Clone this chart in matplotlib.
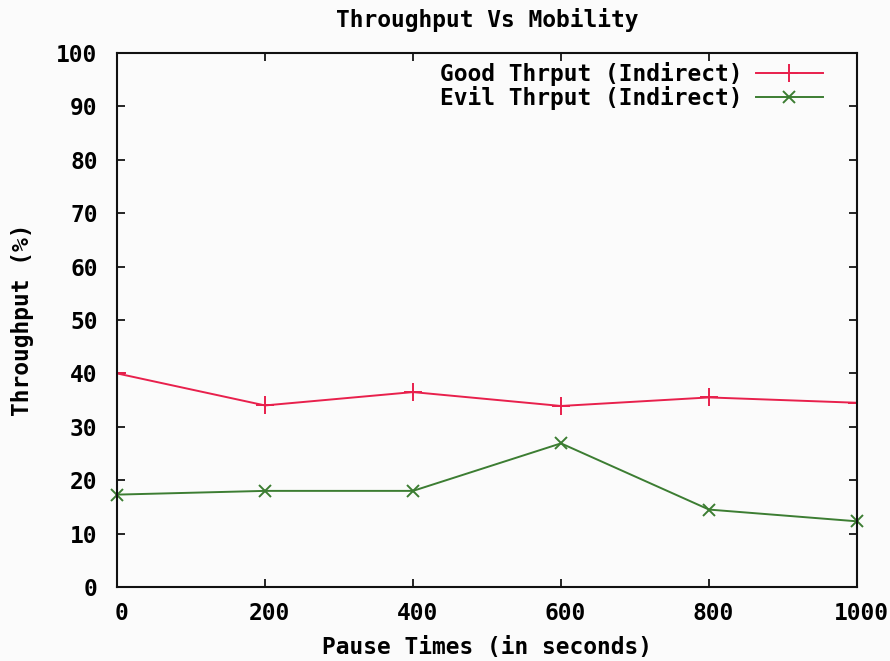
import numpy as np
import matplotlib
matplotlib.use("Agg")
import matplotlib.pyplot as plt
import matplotlib.transforms as mtransforms

# Data
pause_times = [0, 200, 400, 600, 800, 1000]
good_thrput = [40.0, 34.0, 36.5, 33.9, 35.5, 34.5]
evil_thrput = [17.3, 18.0, 18.0, 26.9, 14.5, 12.3]

x_ticks = [0, 200, 400, 600, 800, 1000]
y_ticks = list(range(0, 101, 10))

plt.rcParams['font.family'] = ['DejaVu Sans Mono', 'DejaVu Sans']
plt.rcParams['font.weight'] = 'bold'
fs = 16.5

fig = plt.figure(figsize=(8.9, 6.61), dpi=100, facecolor='#fbfbfb')
ax = fig.add_axes([117 / 890, 1 - 587 / 661, (857 - 117) / 890, (587 - 53) / 661])
ax.set_facecolor('#fbfbfb')

ax.plot(pause_times, good_thrput, color='#e8204c', linewidth=1.4,
        marker='+', markersize=13, markeredgewidth=1.4,
        label='Good Thrput (Indirect)')
ax.plot(pause_times, evil_thrput, color='#3c7d32', linewidth=1.4,
        marker='x', markersize=9, markeredgewidth=1.4, clip_on=False,
        label='Evil Thrput (Indirect)')

ax.set_xlim(0, 1000)
ax.set_ylim(0, 100)
ax.set_xticks(x_ticks)
ax.set_yticks(y_ticks)
ax.tick_params(direction='in', length=6, width=1.2, top=True, right=True,
               labelsize=fs)
ax.tick_params(axis='x', pad=11)
ax.tick_params(axis='y', pad=14)
shift = mtransforms.ScaledTranslation(4 / 100, 0, fig.dpi_scale_trans)
for lab in ax.get_xticklabels():
    lab.set_fontweight('bold')
    lab.set_transform(lab.get_transform() + shift)
for lab in ax.get_yticklabels():
    lab.set_fontweight('bold')
for sp in ax.spines.values():
    sp.set_linewidth(1.5)
    sp.set_color('#111111')

ax.set_title("Throughput Vs Mobility", fontsize=fs, fontweight='bold', pad=19)
ax.set_xlabel("Pause Times (in seconds)", fontsize=fs, fontweight='bold', labelpad=8)
ax.set_ylabel("Throughput (%)", fontsize=fs, fontweight='bold', labelpad=16)

leg = ax.legend(loc='upper right', frameon=False, markerfirst=False,
                prop={'size': fs, 'weight': 'bold'}, handlelength=2.9,
                handletextpad=0.6, labelspacing=0.0,
                borderaxespad=0.0, bbox_to_anchor=(0.966, 1.0))

fig.savefig("out.png", dpi=100, facecolor=fig.get_facecolor())
